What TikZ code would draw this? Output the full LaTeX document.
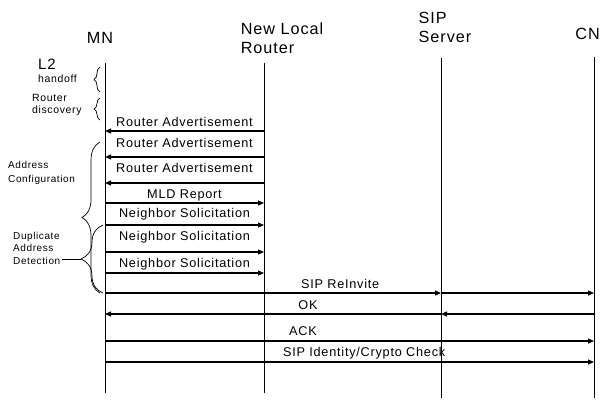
\documentclass[tikz,border=0pt]{standalone}
\usepackage{fontspec}
\setmainfont{Liberation Sans}[LetterSpace=6]
\usepackage{tikz}
\usetikzlibrary{positioning,arrows.meta,decorations.pathreplacing}

\begin{document}
\begin{tikzpicture}[x=1pt, y=-1pt,
  lifeline/.style={line width=0.9pt},
  msg/.style={line width=1.2pt, -{Triangle[length=6pt,width=5pt]}},
  msglbl/.style={font=\fontsize{12.7}{14}\selectfont, anchor=base, inner sep=0pt},
  actor/.style={font=\fontsize{16.2}{19}\selectfont, align=left, inner sep=0pt},
  sidelbl/.style={font=\fontsize{10.5}{12.5}\selectfont, align=left, anchor=west, inner sep=0pt},
  phase/.style={decorate, decoration={brace, amplitude=#1}, line width=0.7pt}]
\useasboundingbox (0,0) rectangle (601,401);

% actors
\node[actor] (mn) at (100,38) {MN};
\node[actor] (nlr) at (282,38) {New Local\\Router};
\node[actor] (sip) at (445,27) {SIP\\Server};
\node[actor, anchor=east] (cn) at (600,34) {CN};

% lifelines
\coordinate (mntop) at (105,63);  \coordinate (mnbot) at (105,393);
\coordinate (nlrtop) at (264,63); \coordinate (nlrbot) at (264,393);
\coordinate (siptop) at (441,58); \coordinate (sipbot) at (441,398);
\coordinate (cntop) at (594,57);  \coordinate (cnbot) at (594,398);
\draw[lifeline] (mntop) -- (mnbot);
\draw[lifeline] (nlrtop) -- (nlrbot);
\draw[lifeline] (siptop) -- (sipbot);
\draw[lifeline] (cntop) -- (cnbot);

% message rows
\foreach \n/\y in {1/131,2/157,3/183,4/203,5/225,6/252,7/273,8/293,9/314,10/341,11/362}{
  \coordinate (mn\n) at (105,\y);
  \coordinate (nlr\n) at (264,\y);
  \coordinate (sip\n) at (441,\y);
  \coordinate (cn\n) at (594,\y);
}

\draw[msg] (nlr1) -- (mn1) node[msglbl, midway, yshift=5pt] {Router Advertisement};
\draw[msg] (nlr2) -- (mn2) node[msglbl, midway, yshift=10pt] {Router Advertisement};
\draw[msg] (nlr3) -- (mn3) node[msglbl, midway, yshift=11pt] {Router Advertisement};
\draw[msg] (mn4) -- (nlr4) node[msglbl, midway, yshift=5pt] {MLD Report};
\draw[msg] (mn5) -- (nlr5) node[msglbl, midway, yshift=8pt] {Neighbor Solicitation};
\draw[msg] (mn6) -- (nlr6) node[msglbl, midway, yshift=12pt] {Neighbor Solicitation};
\draw[msg] (mn7) -- (nlr7) node[msglbl, midway, yshift=6pt] {Neighbor Solicitation};

\draw[msg] (mn8) -- (sip8) node[msglbl, pos=0.70, yshift=5pt] {SIP ReInvite};
\draw[msg] (sip8) -- (cn8);
\draw[msg] (cn9) -- (sip9);
\draw[msg] (sip9) -- (mn9) node[msglbl, pos=0.396, yshift=5pt] {OK};
\draw[msg] (mn10) -- (cn10) node[msglbl, pos=0.405, yshift=6pt] {ACK};
\draw[msg] (mn11) -- (cn11) node[msglbl, pos=0.53, yshift=6pt] {SIP Identity/Crypto Check};

% phases on the MN side
\node[font=\fontsize{15}{18}\selectfont, anchor=west, inner sep=0pt] (l2lbl) at (38,64) {L2};
\node[sidelbl] (hofflbl) at (38,79) {handoff};
\node[sidelbl] (rdlbl) at (32,105) {Router\\discovery};
\node[sidelbl, font=\fontsize{10}{14}\selectfont] (aclbl) at (8,173) {Address\\Configuration};
\node[sidelbl, font=\fontsize{10}{12.5}\selectfont] (dadlbl) at (13,248) {Duplicate\\Address\\Detection};

\coordinate (l2bot) at (100,92);  \coordinate (l2top) at (100,67);
\coordinate (rdbot) at (100,120); \coordinate (rdtop) at (100,98);
\coordinate (acbot) at (100,293); \coordinate (actop) at (100,142);
\coordinate (dadbot) at (103,293); \coordinate (dadtop) at (103,225);
\coordinate (dadtip) at (81,259);
\draw[phase=6pt] (l2bot) -- (l2top);
\draw[phase=6pt] (rdbot) -- (rdtop);
\draw[phase=18pt] (acbot) -- (actop);
\draw[phase=22pt] (dadbot) -- (dadtop);
\draw[line width=0.7pt] ([xshift=2pt]dadlbl.east |- dadtip) -- (dadtip);

\end{tikzpicture}
\end{document}
